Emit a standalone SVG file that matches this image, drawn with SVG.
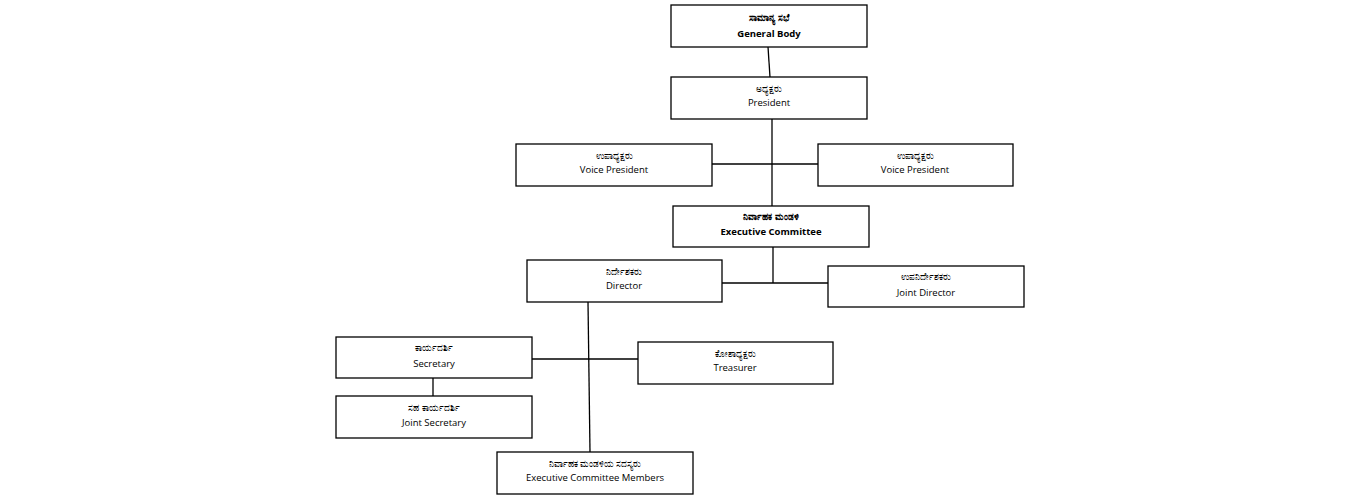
<svg xmlns="http://www.w3.org/2000/svg" width="1360" height="500" viewBox="0 0 1360 500">
<style>
rect{fill:#fff;stroke:#000;stroke-width:1.3}
text{font-family:"Open Sans","Noto Sans","Liberation Sans",sans-serif;font-size:9.5px;text-anchor:middle;fill:#000}
.k{font-size:8.5px}
.b{font-weight:bold}
#connectors line{stroke:#000;stroke-width:1.3}
</style>
<rect x="0" y="0" width="1360" height="500" style="fill:#fff;stroke:none"/>
<g id="connectors">
<line x1="768" y1="47" x2="770" y2="77"/>
<line x1="772" y1="119" x2="772" y2="206"/>
<line x1="712" y1="164" x2="818" y2="164"/>
<line x1="773" y1="247" x2="773" y2="283"/>
<line x1="722" y1="283" x2="828" y2="283"/>
<line x1="588" y1="302" x2="590" y2="452"/>
<line x1="532" y1="359" x2="638" y2="359"/>
<line x1="433" y1="378" x2="433" y2="396"/>
</g>
<g id="general-body"><rect x="671" y="5" width="196" height="42"/><text x="769" y="21" class="k b">ಸಾಮಾನ್ಯ ಸಭೆ</text><text x="769" y="37" class="b">General Body</text></g>
<g id="president"><rect x="671" y="77" width="196" height="42"/><text x="769" y="92" class="k">ಅಧ್ಯಕ್ಷರು</text><text x="769" y="106">President</text></g>
<g id="vp-left"><rect x="516" y="144" width="196" height="42"/><text x="614" y="159" class="k">ಉಪಾಧ್ಯಕ್ಷರು</text><text x="614" y="173">Voice President</text></g>
<g id="vp-right"><rect x="818" y="144" width="195" height="42"/><text x="915" y="159" class="k">ಉಪಾಧ್ಯಕ್ಷರು</text><text x="915" y="173">Voice President</text></g>
<g id="exec"><rect x="673" y="206" width="196" height="41"/><text x="771" y="220" class="k b">ನಿರ್ವಾಹಕ ಮಂಡಳಿ</text><text x="771" y="235" class="b">Executive Committee</text></g>
<g id="director"><rect x="527" y="260" width="195" height="42"/><text x="624" y="275" class="k">ನಿರ್ದೇಶಕರು</text><text x="624" y="289">Director</text></g>
<g id="joint-director"><rect x="828" y="266" width="196" height="41"/><text x="926" y="280" class="k">ಉಪನಿರ್ದೇಶಕರು</text><text x="926" y="296">Joint Director</text></g>
<g id="secretary"><rect x="336" y="337" width="196" height="41"/><text x="434" y="351" class="k">ಕಾರ್ಯದರ್ಶಿ</text><text x="434" y="367">Secretary</text></g>
<g id="treasurer"><rect x="638" y="342" width="195" height="42"/><text x="735" y="357" class="k">ಕೋಶಾಧ್ಯಕ್ಷರು</text><text x="735" y="371">Treasurer</text></g>
<g id="joint-secretary"><rect x="336" y="396" width="196" height="42"/><text x="434" y="411" class="k">ಸಹ ಕಾರ್ಯದರ್ಶಿ</text><text x="434" y="426">Joint Secretary</text></g>
<g id="ec-members"><rect x="497" y="452" width="196" height="42"/><text x="595" y="467" class="k">ನಿರ್ವಾಹಕ ಮಂಡಳಿಯ ಸದಸ್ಯರು</text><text x="595" y="481">Executive Committee Members</text></g>
</svg>
